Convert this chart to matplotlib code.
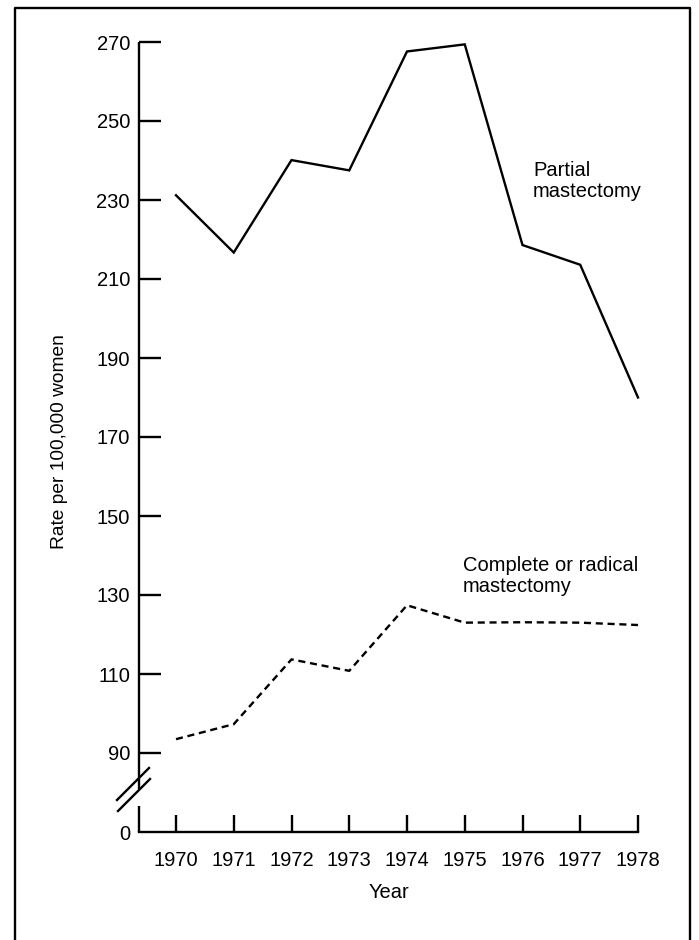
import matplotlib
matplotlib.use("Agg")
import matplotlib.pyplot as plt
from matplotlib.lines import Line2D

plt.rcParams['font.family'] = ['Liberation Sans', 'DejaVu Sans']

years = [1970, 1971, 1972, 1973, 1974, 1975, 1976, 1977, 1978]
partial = [231.2, 216.7, 240.1, 237.5, 267.6, 269.4, 218.6, 213.6, 180.0]
complete = [93.5, 97.3, 113.7, 110.8, 127.4, 123.0, 123.1, 123.0, 122.4]
ytick_vals = [70, 90, 110, 130, 150, 170, 190, 210, 230, 250, 270]
ytick_labels = ["0", "90", "110", "130", "150", "170", "190", "210", "230", "250", "270"]
xtick_labels = [str(y) for y in years]

W, H = 699, 940
fig = plt.figure(figsize=(W / 100, H / 100), dpi=100)

def fx(px):
    return px / W

def fy(py):
    return 1 - py / H

ax_left, ax_right, ax_top, ax_bot = 139, 638, 42, 832
ax = fig.add_axes([fx(ax_left), fy(ax_bot), (ax_right - ax_left) / W, (ax_bot - ax_top) / H])

lw = 1.7
ax.plot(years, partial, color='black', lw=lw, solid_joinstyle='miter', clip_on=False)
ax.plot(years, complete, color='black', lw=lw, dashes=(3.0, 2.0), clip_on=False)

x0 = 1970 - (176 - 139) / ((638 - 176) / 8)
ax.set_xlim(x0, 1978)
ax.set_ylim(70, 270)

for s in ['top', 'right', 'left']:
    ax.spines[s].set_visible(False)
ax.spines['bottom'].set_linewidth(lw)

# left spine drawn in two segments with a break
brk_lo, brk_hi = 76.5, 81.0
ax.plot([x0, x0], [70, brk_lo], color='black', lw=lw, clip_on=False, solid_capstyle='butt')
ax.plot([x0, x0], [brk_hi, 270], color='black', lw=lw, clip_on=False, solid_capstyle='butt')

ax.set_xticks(years)
ax.set_xticklabels(xtick_labels)
ax.set_yticks(ytick_vals)
ax.set_yticklabels(ytick_labels)
ax.tick_params(axis='y', direction='in', length=16, width=lw, pad=6.5, labelsize=14.5)
ax.tick_params(axis='x', direction='in', length=12, width=lw, pad=14, labelsize=14.5)
ax.yaxis.get_major_ticks()[0].tick1line.set_visible(False)

# break marks (figure pixel coords)
for (xa, ya, xb, yb) in [(117, 800, 149, 768), (118, 811, 150, 779)]:
    fig.add_artist(Line2D([fx(xa), fx(xb)], [fy(ya), fy(yb)], color='black', lw=lw))

# frame
fig.add_artist(Line2D([fx(15), fx(15), fx(690), fx(690)], [fy(940), fy(8), fy(8), fy(940)],
                      color='black', lw=1.7))

fig.text(fx(60), fy(442), "Rate per 100,000 women", rotation=90, ha='center', va='center', fontsize=13.8)
fig.text(fx(389), fy(893), "Year", ha='center', va='center', fontsize=14.5)

fig.text(fx(533), fy(181), "Partial\nmastectomy", ha='left', va='center', fontsize=14.5, linespacing=1.15)
fig.text(fx(463), fy(576), "Complete or radical\nmastectomy", ha='left', va='center', fontsize=14.5, linespacing=1.15)

fig.savefig("out.png", dpi=100)
